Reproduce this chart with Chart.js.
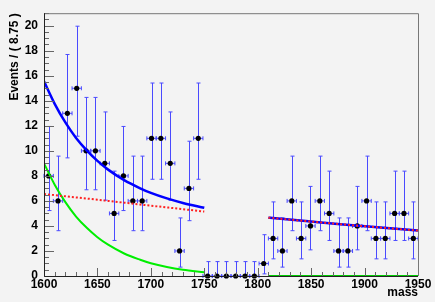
<!DOCTYPE html>
<html>
<head>
<meta charset="utf-8">
<script src="https://cdn.jsdelivr.net/npm/chart.js@4"></script>
<style>
  html, body { margin: 0; padding: 0; background: #f3f3f3; }
  #wrap { width: 435px; height: 302px; }
</style>
</head>
<body>
<div id="wrap"><canvas id="myChart" width="435" height="302"></canvas></div>
<script>
// bin centres (bin width 8.75)
var binCenters = [1604.375, 1613.125, 1621.875, 1630.625, 1639.375, 1648.125, 1656.875, 1665.625,
  1674.375, 1683.125, 1691.875, 1700.625, 1709.375, 1718.125, 1726.875, 1735.625, 1744.375,
  1753.125, 1761.875, 1770.625, 1779.375, 1788.125, 1796.875, 1805.625, 1814.375, 1823.125,
  1831.875, 1840.625, 1849.375, 1858.125, 1866.875, 1875.625, 1884.375, 1893.125, 1901.875,
  1910.625, 1919.375, 1928.125, 1936.875, 1945.625];
var counts = [8, 6, 13, 15, 10, 10, 9, 5, 8, 6, 6, 11, 11, 9, 2, 7, 11,
  0, 0, 0, 0, 0, 0, 1, 3, 2, 6, 3, 4, 6, 5, 2, 2, 4, 6, 3, 3, 5, 5, 3];
// asymmetric (poisson) errors, below / above
var errLo = [2.77, 2.38, 3.56, 3.83, 3.11, 3.11, 2.94, 2.16, 2.77, 2.38, 2.38, 3.27, 3.27, 2.94, 1.29, 2.58, 3.27,
  0, 0, 0, 0, 0, 0, 0.83, 1.63, 1.29, 2.38, 1.63, 1.91, 2.38, 2.16, 1.29, 1.29, 1.91, 2.38, 1.63, 1.63, 2.16, 2.16, 1.63];
var errHi = [3.95, 3.58, 4.70, 4.96, 4.27, 4.27, 4.11, 3.38, 3.95, 3.58, 3.58, 4.42, 4.42, 4.11, 2.64, 3.77, 4.42,
  1.15, 1.15, 1.15, 1.15, 1.15, 1.15, 2.30, 2.92, 2.64, 3.58, 2.92, 3.16, 3.58, 3.38, 2.64, 2.64, 3.16, 3.58, 2.92, 2.92, 3.38, 3.38, 2.92];
var halfBin = 4.375;

// fit curves, range 1: 1600-1750
var fit1X = [1600, 1610, 1620, 1630, 1640, 1650, 1660, 1675, 1690, 1700, 1715, 1730, 1750];
var total1 = [15.55, 13.76, 12.27, 11.03, 10.04, 9.2, 8.5, 7.66, 7.01, 6.64, 6.2, 5.84, 5.45];
var signal1 = [9.0, 7.3, 5.9, 4.75, 3.85, 3.1, 2.5, 1.8, 1.3, 1.02, 0.72, 0.5, 0.3];
var bkg1 = [6.55, 6.46, 6.37, 6.28, 6.19, 6.1, 6.0, 5.86, 5.71, 5.62, 5.48, 5.34, 5.15];
// range 2: 1810-1950
var fit2X = [1810, 1845, 1880, 1915, 1950];
var total2 = [4.66, 4.39, 4.12, 3.87, 3.63];
var signal2 = [0, 0, 0, 0, 0];
var bkg2 = [4.66, 4.39, 4.12, 3.87, 3.63];

// tick labels
var xTickValues = [1600, 1650, 1700, 1750, 1800, 1850, 1900, 1950];
var yTickValues = [0, 2, 4, 6, 8, 10, 12, 14, 16, 18, 20];

var FAMILY = '"Liberation Sans", Arial, sans-serif';
var FONT = 'bold 12px ' + FAMILY;

function pts(xs, ys) {
    return xs.map((x, i) => ({ x: x, y: ys[i] }));
}

// background, ticks, frame, titles, error bars
var rootStyle = {
    id: 'rootStyle',
    beforeDraw(chart) {
        var c = chart.ctx;
        c.save();
        c.fillStyle = '#f3f3f3';
        c.fillRect(0, 0, chart.width, chart.height);
        c.restore();
    },
    beforeDatasetsDraw(chart) {
        var c = chart.ctx, xs = chart.scales.x, ys = chart.scales.y;
        c.save();
        c.strokeStyle = '#4a4aff';
        c.lineWidth = 1;
        for (var i = 0; i < counts.length; i++) {
            var px = Math.round(xs.getPixelForValue(binCenters[i])) + 0.5;
            var py = ys.getPixelForValue(counts[i]);
            var yl = ys.getPixelForValue(counts[i] - errLo[i]);
            var yh = ys.getPixelForValue(counts[i] + errHi[i]);
            var xl = xs.getPixelForValue(binCenters[i] - halfBin);
            var xh = xs.getPixelForValue(binCenters[i] + halfBin);
            c.beginPath();
            c.moveTo(px, yl); c.lineTo(px, yh);
            c.moveTo(px - 2, yh); c.lineTo(px + 2, yh);
            if (errLo[i] > 0) { c.moveTo(px - 2, yl); c.lineTo(px + 2, yl); }
            c.moveTo(xl, py); c.lineTo(xh, py);
            c.moveTo(xl, py - 2); c.lineTo(xl, py + 2);
            c.moveTo(xh, py - 2); c.lineTo(xh, py + 2);
            c.stroke();
        }
        c.restore();
    },
    afterDraw(chart) {
        var c = chart.ctx, a = chart.chartArea, xs = chart.scales.x, ys = chart.scales.y;
        c.save();
        c.strokeStyle = '#666';
        c.lineWidth = 1;
        c.beginPath();
        for (var v = 0; v <= 21; v += 0.5) {
            var y = Math.round(ys.getPixelForValue(v)) + 0.5;
            var len = (v % 2 === 0) ? 10 : 5;
            c.moveTo(a.left, y); c.lineTo(a.left + len, y);
        }
        for (var u = 1600; u <= 1950; u += 10) {
            var x = Math.round(xs.getPixelForValue(u)) + 0.5;
            var l2 = (u % 50 === 0) ? 8 : 4;
            c.moveTo(x, a.bottom); c.lineTo(x, a.bottom - l2);
        }
        c.stroke();
        // frame
        c.strokeStyle = '#777';
        c.beginPath();
        c.moveTo(a.left, a.top + 0.5); c.lineTo(a.right + 0.5, a.top + 0.5); c.lineTo(a.right + 0.5, a.bottom);
        c.stroke();
        c.strokeStyle = '#222';
        c.beginPath();
        c.moveTo(a.left + 0.5, a.top); c.lineTo(a.left + 0.5, a.bottom + 0.5); c.lineTo(a.right, a.bottom + 0.5);
        c.stroke();
        // titles
        c.fillStyle = '#000';
        c.font = FONT;
        c.textAlign = 'right';
        c.textBaseline = 'alphabetic';
        c.fillText('mass', a.right, 296);
        c.translate(18, a.top);
        c.rotate(-Math.PI / 2);
        c.fillText('Events / ( 8.75 )', 0, 0);
        c.restore();
    }
};

var lineBase = { pointRadius: 0, fill: false, cubicInterpolationMode: 'monotone', borderCapStyle: 'butt' };
var tickFont = { family: FAMILY, size: 12, weight: 'bold' };

var ctx = document.getElementById('myChart').getContext('2d');
var myChart = new Chart(ctx, {
    type: 'scatter',
    data: {
        datasets: [
            Object.assign({ type: 'line', data: pts(fit1X, bkg1), borderColor: '#ff2020', borderWidth: 2, borderDash: [2, 2], order: 1 }, lineBase),
            Object.assign({ type: 'line', data: pts(fit2X, bkg2), borderColor: '#ff2020', borderWidth: 2, borderDash: [2, 2], order: 1 }, lineBase),
            Object.assign({ type: 'line', data: pts(fit1X, signal1), borderColor: '#00ee00', borderWidth: 2, order: 2 }, lineBase),
            Object.assign({ type: 'line', data: pts(fit2X, signal2), borderColor: '#00cc00', borderWidth: 2, order: 2, clip: false }, lineBase),
            Object.assign({ type: 'line', data: pts(fit1X, total1), borderColor: '#0000ff', borderWidth: 2.5, order: 3 }, lineBase),
            Object.assign({ type: 'line', data: pts(fit2X, total2), borderColor: '#0000ff', borderWidth: 2.5, order: 3 }, lineBase),
            {
                type: 'scatter',
                data: pts(binCenters, counts),
                backgroundColor: '#000',
                borderColor: '#000',
                pointRadius: 2.6,
                pointHoverRadius: 2.6,
                borderWidth: 0,
                clip: false,
                order: 5
            }
        ]
    },
    options: {
        responsive: false,
        animation: false,
        events: [],
        layout: { padding: { top: 7, right: 17, left: 0, bottom: 0 } },
        plugins: { legend: { display: false }, tooltip: { enabled: false } },
        scales: {
            x: {
                type: 'linear', min: 1600, max: 1950,
                grid: { display: false, drawTicks: false },
                border: { display: false },
                ticks: { padding: 1, color: '#000', font: tickFont, maxRotation: 0, autoSkip: false, callback: v => String(v) },
                afterBuildTicks(s) { s.ticks = xTickValues.map(v => ({ value: v })); },
                afterFit(s) { s.height = 26; }
            },
            y: {
                type: 'linear', min: 0, max: 21,
                grid: { display: false, drawTicks: false },
                border: { display: false },
                ticks: { padding: 6, color: '#000', font: tickFont, autoSkip: false, callback: v => String(v) },
                afterBuildTicks(s) { s.ticks = yTickValues.map(v => ({ value: v })); },
                afterFit(s) { s.width = 44; }
            }
        }
    },
    plugins: [rootStyle]
});
</script>
</body>
</html>
